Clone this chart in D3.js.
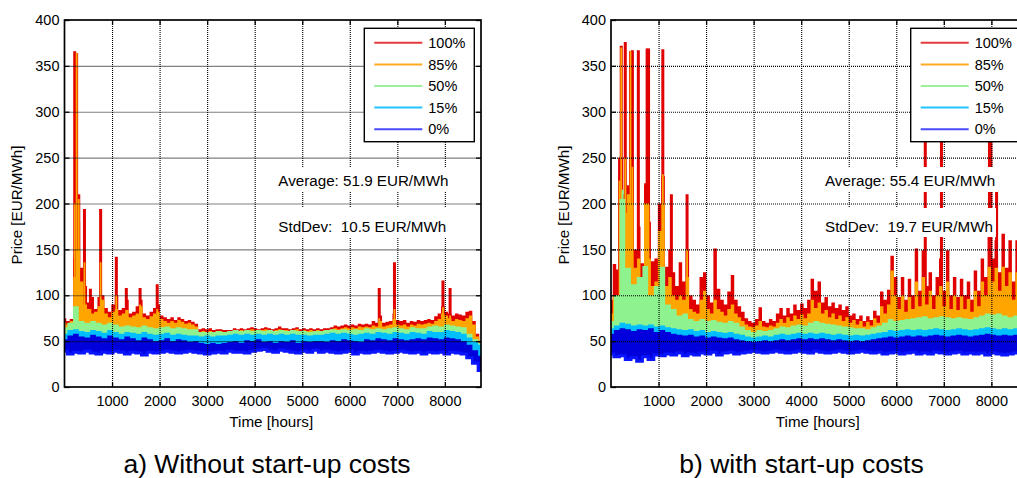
<!DOCTYPE html>
<html><head><meta charset="utf-8">
<script src="https://cdn.jsdelivr.net/npm/d3@7"></script>
<style>
html,body{margin:0;padding:0;background:#fff;}
svg{display:block;font-family:"Liberation Sans",Arial,sans-serif;}
text{white-space:pre;}
</style></head><body>
<svg id="chart" width="1017" height="478"></svg>
<script>
// ---------------- data ----------------
const HOURS = 8760;
const xTicks = [1000, 2000, 3000, 4000, 5000, 6000, 7000, 8000];
const yTicks = [0, 50, 100, 150, 200, 250, 300, 350, 400];
const legendLabels = ["100%", "85%", "50%", "15%", "0%"];

// Panel a) without start-up costs  (0%,15%,50% bands: 120 h samples; 85%,100%: 73 h samples)
const a_low0 = [39,36,38,37,39,37,36,38,37,39, 38,36,38,37,35,38,37,38,39,38, 37,38,39,38,37,36,37,38,37,39, 38,38,37,39,40,41,39,38,40,39, 38,37,39,38,40,38,39,38,37,38, 39,36,38,37,38,39,38,37,38,39, 38,37,38,36,38,37,38,36,38,37, 36,32,26,18];
const a_p0 = [52,56,58,55,54,57,55,53,56,54, 52,55,53,51,54,52,50,51,53,50, 52,51,49,50,48,47,48,47,48,49, 50,48,51,50,52,49,50,48,50,49, 51,48,50,49,50,50,49,51,50,52, 51,50,49,52,51,53,52,51,53,52, 51,52,53,52,54,53,52,54,53,52, 50,46,40,34];
const a_p15 = [58,62,63,61,60,62,61,59,62,60, 58,60,59,58,60,58,57,58,59,57, 58,57,56,56,55,56,55,56,56,57, 58,57,58,57,58,57,58,57,58,57, 58,57,57,56,57,57,58,59,58,59, 58,57,58,59,58,60,59,58,60,59, 58,60,59,58,61,60,60,62,61,60, 58,54,50,46];
const a_p50 = [65,70,88,72,70,72,70,68,70,68, 66,67,66,65,67,65,64,65,66,64, 65,64,63,63,60,60,60,61,60,61, 62,61,62,61,62,61,62,61,62,61, 62,61,61,60,61,61,62,63,62,63, 62,63,62,64,63,64,63,64,65,64, 63,65,64,64,66,67,66,68,67,66, 65,58,52,48];
const a_p85 = [70,68,72,120,150,115,90,85,80,82, 88,95,80,76,82,85,78,80,84,76, 78,80,88,76,74,77,80,82,74,72, 70,72,70,73,71,69,70,68,66,60, 61,60,61,59,60,61,60,59,60,62, 61,62,61,62,63,62,61,62,63,62, 61,62,63,62,62,61,62,63,61,62, 61,62,61,62,61,62,62,63,64,63, 64,65,64,65,64,66,65,66,65,67, 66,72,66,67,68,74,68,67,68,66, 68,67,69,68,69,70,69,72,74,80, 78,75,72,74,73,72,75,78,68,55,48];
const a_p100 = [75,72,74,140,180,130,110,92,98,85, 98,100,86,82,90,100,84,86,95,80, 82,88,95,80,78,82,86,90,78,76, 74,76,73,76,74,72,73,71,69,63, 64,63,64,62,63,63,62,62,62,64, 63,64,63,64,65,64,63,64,65,64, 63,64,66,64,64,63,64,65,63,64, 63,64,63,64,63,64,64,65,67,66, 67,68,67,68,67,69,68,69,68,72, 70,78,70,71,72,80,73,72,73,70, 72,71,73,72,73,74,73,77,80,88, 82,80,78,80,79,78,82,83,72,58,50];
const a_spikeHours  = [215,255,300,420,545,760,1090,1300,1590,1950,6620,6940,7960,8110];
const a_spikeRed    = [366,364,210,194,107,194,142,108,108,112,108,136,116,108];
const a_spikeOrange = [200,364,205,136,85,136,100,82,90,85,75,85,87,78];
const a_spikeGreen  = [0,0,0,0,0,0,0,0,0,0,0,0,0,0];
const a_average = "Average: 51.9 EUR/MWh";
const a_stddev  = "StdDev:  10.5 EUR/MWh";
const a_title   = "a) Without start-up costs";

// Panel b) with start-up costs
const b_low0 = [36,33,34,30,32,28,33,30,35,34, 36,35,37,34,36,35,37,36,38,35, 37,38,36,37,38,39,38,37,38,39, 38,37,38,39,38,37,39,38,37,38, 39,38,37,38,39,38,37,38,36,37, 38,36,37,38,36,37,36,38,37,36, 37,38,36,37,36,37,35,37,36,35, 36,37,35,36];
const b_p0 = [58,62,64,63,61,63,62,64,60,62, 60,58,57,56,57,55,56,54,55,54, 53,54,52,51,50,49,50,51,50,51, 52,51,52,53,52,53,52,53,52,51, 52,51,50,51,50,51,52,53,54,55, 54,55,56,55,56,55,56,57,56,55, 56,57,56,55,56,57,58,57,56,57, 56,57,56,55];
const b_p15 = [64,67,70,69,67,68,67,68,66,67, 65,64,63,62,63,61,62,60,61,60, 59,60,58,57,55,54,55,56,55,57, 58,57,58,59,58,59,58,59,58,57, 58,57,56,57,56,57,58,59,60,62, 61,62,63,62,63,62,63,64,63,62, 63,64,63,62,63,64,65,64,63,64, 63,64,63,62];
const b_p50 = [72,100,205,130,112,120,132,100,110,131, 90,85,78,80,74,72,74,72,73,71, 70,72,70,66,62,60,62,61,62,64, 66,65,67,68,67,70,72,70,69,68, 67,66,65,64,64,63,65,67,70,74, 72,73,74,75,76,77,75,76,77,76, 75,76,75,74,76,78,80,79,80,78, 76,78,77,76];
const b_p85 = [80,100,95,200,190,210,200,130,140,115, 200,140,110,115,170,200,110,120,100,95, 100,95,120,85,82,80,95,105,85,80, 95,85,82,78,85,90,80,76,72,68, 66,65,67,72,66,65,67,66,70,74, 70,76,72,78,74,79,75,80,95,86, 92,80,84,76,80,74,78,72,76,70, 73,68,72,66,71,67,75,70,88,80, 90,127,100,85,100,82,98,85,115,88, 120,90,105,85,100,110,88,115,85,100, 84,99,85,96,82,105,88,115,100,131, 115,130,105,131,110,125,95,125,105,120,115];
const b_p100 = [95,134,128,250,210,220,240,150,175,135, 220,180,137,140,200,230,131,150,125,110, 136,115,150,100,95,90,120,125,100,92, 151,107,95,90,104,122,95,88,82,75, 72,70,74,87,72,70,74,72,80,86, 78,86,80,90,84,91,86,95,118,105, 115,92,98,88,92,86,90,84,88,78, 80,74,78,72,77,73,83,78,104,95, 106,143,120,98,120,95,118,100,151,105, 149,110,125,100,120,140,105,149,100,120, 98,118,100,115,95,127,105,140,120,167, 140,160,125,167,130,160,115,160,125,155,140];
const b_spikeHours  = [180,215,245,300,410,450,575,730,760,790,1090,1270,1600,6610,6950,7960,7990,8110];
const b_spikeRed    = [250,372,0,376,366,367,367,222,369,369,368,210,210,365,365,365,365,215];
const b_spikeOrange = [225,370,0,250,366,240,0,0,200,200,232,0,150,0,0,0,0,0];
const b_spikeGreen  = [0,0,215,0,0,0,0,0,0,0,0,0,0,0,0,0,0,0];
const b_average = "Average: 55.4 EUR/MWh";
const b_stddev  = "StdDev:  19.7 EUR/MWh";
const b_title   = "b) with start-up costs";

const yLabel = "Price [EUR/MWh]";
const xLabel = "Time [hours]";

// ---------------- style ----------------
const RED = "#e00000", ORANGE = "#ffa500", GREEN = "#8ef28e", CYAN = "#00bfff", BLUE = "#0000dc", BLUE_EDGE = "#0a14ff";
const legendColors = ["#e63a3a", "#ffaa22", "#9cf09c", "#22c4ff", "#4a4aff"];
const PLOT_W = 416.5, PLOT_TOP = 20, PLOT_BOTTOM = 387;
const TICK_FONT = 14.5, LABEL_FONT = 15.2;

const svg = d3.select("#chart");
const defs = svg.append("defs");

function drawPanel(P) {
  const g = svg.append("g");
  const H = PLOT_BOTTOM - PLOT_TOP;
  const x = d3.scaleLinear().domain([0, HOURS]).range([P.left, P.left + PLOT_W]);
  const y = d3.scaleLinear().domain([0, 400]).range([PLOT_BOTTOM, PLOT_TOP]);
  const hx = arr => (d, i) => x(i * HOURS / (arr.length - 1));

  g.append("rect").attr("x", P.left).attr("y", PLOT_TOP).attr("width", PLOT_W).attr("height", H).attr("fill", "#fff");

  const clipId = "clip" + P.id, floorId = "floor" + P.id;
  defs.append("clipPath").attr("id", clipId).append("rect")
    .attr("x", P.left).attr("y", PLOT_TOP).attr("width", PLOT_W).attr("height", H);
  defs.append("clipPath").attr("id", floorId).append("path")
    .attr("d", d3.area().x(hx(P.low0)).y0(y(400)).y1(d => y(d)).curve(d3.curveStep)(P.low0));

  const dataG = g.append("g").attr("clip-path", `url(#${clipId})`);
  const bands = dataG.append("g").attr("clip-path", `url(#${floorId})`);
  const band = (arr, color) => bands.append("path")
    .attr("d", d3.area().x(hx(arr)).y0(y(0)).y1(d => y(d)).curve(d3.curveStep)(arr))
    .attr("fill", color);
  const spikes = (vals, color, w) => bands.append("g").selectAll("line")
    .data(P.spikeHours.map((h, i) => [h, vals[i]]).filter(d => d[1] > 0))
    .join("line")
    .attr("x1", d => x(d[0])).attr("x2", d => x(d[0]))
    .attr("y1", y(45)).attr("y2", d => y(d[1]))
    .attr("stroke", color).attr("stroke-width", w);

  band(P.p100, RED);   spikes(P.spikeRed, RED, 3);
  band(P.p85, ORANGE); spikes(P.spikeOrange, ORANGE, 1.8);
  band(P.p50, GREEN);  spikes(P.spikeGreen, GREEN, 2);
  band(P.p15, CYAN);
  band(P.p0, BLUE);
  dataG.append("path")
    .attr("d", d3.line().x(hx(P.low0)).y(d => y(d)).curve(d3.curveStep)(P.low0))
    .attr("fill", "none").attr("stroke", BLUE_EDGE).attr("stroke-width", 3);

  // grid (drawn over data, MATLAB layer top)
  const gridX = g.append("g").attr("transform", `translate(0,${PLOT_BOTTOM})`)
    .call(d3.axisBottom(x).tickValues(xTicks).tickSize(-H).tickFormat(""));
  const gridY = g.append("g").attr("transform", `translate(${P.left},0)`)
    .call(d3.axisLeft(y).tickValues(yTicks.slice(1, -1)).tickSize(-PLOT_W).tickFormat(""));
  [gridX, gridY].forEach(a => {
    a.select(".domain").remove();
    a.selectAll("line").attr("stroke", "#000").attr("stroke-width", 1.1).attr("stroke-dasharray", "1,1");
  });

  // axes with inward ticks on all four sides
  const axB = g.append("g").attr("transform", `translate(0,${PLOT_BOTTOM})`)
    .call(d3.axisBottom(x).tickValues(xTicks).tickFormat(d3.format("d")).tickSizeInner(-5).tickSizeOuter(0).tickPadding(9.2));
  const axT = g.append("g").attr("transform", `translate(0,${PLOT_TOP})`)
    .call(d3.axisTop(x).tickValues(xTicks).tickSizeInner(-5).tickSizeOuter(0).tickFormat(""));
  const axL = g.append("g").attr("transform", `translate(${P.left},0)`)
    .call(d3.axisLeft(y).tickValues(yTicks).tickFormat(d3.format("d")).tickSizeInner(-5).tickSizeOuter(0).tickPadding(5));
  const axR = g.append("g").attr("transform", `translate(${P.left + PLOT_W},0)`)
    .call(d3.axisRight(y).tickValues(yTicks).tickSizeInner(-5).tickSizeOuter(0).tickFormat(""));
  [axB, axT, axL, axR].forEach(a => {
    a.select(".domain").remove();
    a.attr("font-family", null).attr("font-size", null);
    a.selectAll("line").attr("stroke", "#000").attr("stroke-width", 1.3);
    a.selectAll("text").attr("font-size", TICK_FONT).attr("fill", "#000");
  });
  g.append("rect").attr("x", P.left).attr("y", PLOT_TOP).attr("width", PLOT_W).attr("height", H)
    .attr("fill", "none").attr("stroke", "#000").attr("stroke-width", 1.7);

  // annotations with white background
  const note = (txt, baseY, padTop, padBot) => {
    const ng = g.append("g");
    const t = ng.append("text").attr("x", P.annX).attr("y", baseY).attr("font-size", LABEL_FONT).attr("fill", "#000").text(txt);
    const bb = t.node().getBBox();
    ng.insert("rect", "text").attr("x", bb.x - 3).attr("y", bb.y - padTop).attr("width", bb.width + 6)
      .attr("height", bb.height + padTop + padBot).attr("fill", "#fff");
  };
  note(P.average, 186, 5, 3);
  note(P.stddev, 232, 10, 2);

  // axis labels
  g.append("text").attr("transform", `translate(${P.ylabX},205) rotate(-90)`).attr("text-anchor", "middle")
    .attr("font-size", LABEL_FONT).text(yLabel);
  g.append("text").attr("x", P.left + PLOT_W / 2 - 1.5).attr("y", 426.5).attr("text-anchor", "middle")
    .attr("font-size", LABEL_FONT).text(xLabel);
  g.append("text").attr("x", P.titleX).attr("y", 473).attr("text-anchor", "middle")
    .attr("font-size", 26.5).text(P.title);

  // legend
  const lg = g.append("g");
  lg.append("rect").attr("x", P.legendX).attr("y", 28.3).attr("width", 110).attr("height", 113.4)
    .attr("fill", "#fff").attr("stroke", "#000").attr("stroke-width", 1.4);
  legendLabels.forEach((lab, i) => {
    const yy = 42.8 + i * 21.6;
    lg.append("line").attr("x1", P.legendX + 10).attr("x2", P.legendX + 58).attr("y1", yy).attr("y2", yy)
      .attr("stroke", legendColors[i]).attr("stroke-width", 2);
    lg.append("text").attr("x", P.legendX + 64).attr("y", yy + 5.2).attr("font-size", TICK_FONT).text(lab);
  });
}

drawPanel({id: "a", left: 64.5, annX: 278.3, ylabX: 22, titleX: 267, legendX: 364.3,
  low0: a_low0, p0: a_p0, p15: a_p15, p50: a_p50, p85: a_p85, p100: a_p100,
  spikeHours: a_spikeHours, spikeRed: a_spikeRed, spikeOrange: a_spikeOrange, spikeGreen: a_spikeGreen,
  average: a_average, stddev: a_stddev, title: a_title});
drawPanel({id: "b", left: 611, annX: 825, ylabX: 569, titleX: 801.5, legendX: 910.7,
  low0: b_low0, p0: b_p0, p15: b_p15, p50: b_p50, p85: b_p85, p100: b_p100,
  spikeHours: b_spikeHours, spikeRed: b_spikeRed, spikeOrange: b_spikeOrange, spikeGreen: b_spikeGreen,
  average: b_average, stddev: b_stddev, title: b_title});
</script>
</body></html>
